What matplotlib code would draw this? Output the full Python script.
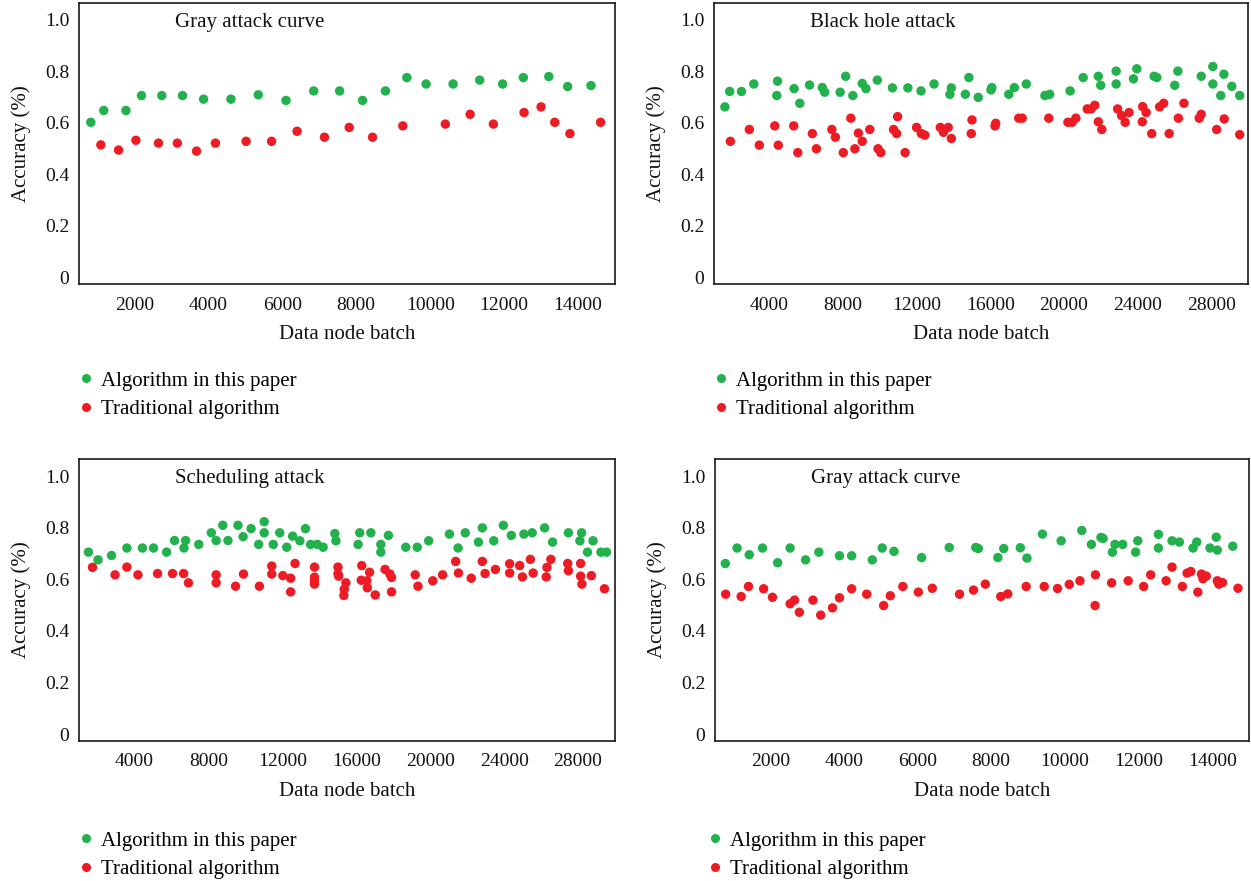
import matplotlib
matplotlib.use("Agg")
import matplotlib.pyplot as plt
from matplotlib.lines import Line2D

plt.rcParams['font.family'] = ['Liberation Serif', 'DejaVu Serif']

# ---------------- data ----------------
titles = ["Gray attack curve", "Black hole attack", "Scheduling attack", "Gray attack curve"]
series_labels = ["Algorithm in this paper", "Traditional algorithm"]
x_label = "Data node batch"
y_label = "Accuracy (%)"

# Panel 1 : Gray attack curve (top-left)
p1_green_x = [820, 1170, 1770, 2190, 2740, 3300, 3870, 4610, 5350, 6100, 6850, 7550,
              8170, 8790, 9370, 9890, 10620, 11340, 11960, 12520, 13210, 13720, 14350]
p1_green_y = [0.602, 0.648, 0.648, 0.706, 0.706, 0.706, 0.692, 0.692, 0.709, 0.687, 0.724, 0.724,
              0.687, 0.724, 0.776, 0.751, 0.751, 0.766, 0.751, 0.776, 0.780, 0.741, 0.745]
p1_red_x = [1090, 1570, 2040, 2650, 3160, 3680, 4190, 5020, 5710, 6400, 7140, 7810,
            8440, 9260, 10410, 11080, 11710, 12540, 13000, 13370, 13780, 14610]
p1_red_y = [0.514, 0.494, 0.532, 0.521, 0.521, 0.490, 0.521, 0.528, 0.528, 0.567, 0.544, 0.582,
            0.544, 0.588, 0.595, 0.633, 0.595, 0.640, 0.662, 0.602, 0.558, 0.602]

# Panel 2 : Black hole attack (top-right)
p2_green_x = [1590, 1850, 2490, 3160, 4450, 4410, 5350, 5660, 6190, 6880, 7010, 7850, 8150,
              8540, 9050, 9250, 9870, 10690, 11530, 12240, 12950, 13810, 13890, 14650, 14840,
              15350, 16040, 16090, 17010, 17310, 17960, 18970, 19230, 20340, 21050, 21870,
              22000, 22840, 22840, 23780, 23960, 24900, 25050, 26020, 26190, 27460, 28090,
              28090, 28520, 28690, 29120, 29550]
p2_green_y = [0.662, 0.722, 0.722, 0.751, 0.762, 0.706, 0.733, 0.676, 0.747, 0.737, 0.719, 0.719, 0.781,
              0.706, 0.753, 0.733, 0.766, 0.736, 0.736, 0.724, 0.751, 0.711, 0.736, 0.711, 0.776,
              0.699, 0.728, 0.737, 0.711, 0.737, 0.751, 0.706, 0.711, 0.724, 0.776, 0.781,
              0.746, 0.801, 0.751, 0.771, 0.810, 0.781, 0.776, 0.746, 0.801, 0.781, 0.751,
              0.819, 0.706, 0.789, 0.742, 0.706]
p2_red_x = [1890, 2920, 3460, 4300, 4490, 5330, 5550, 6340, 6560, 7400, 7590, 8020, 8430,
            8650, 8840, 9050, 9460, 9910, 10060, 10750, 10920, 10970, 11380, 12000, 12260,
            12450, 13290, 13460, 13720, 13890, 15010, 14970, 16260, 16300, 17550, 17740,
            19180, 20220, 20450, 20650, 21270, 21480, 21680, 21870, 22060, 22920, 23140,
            23330, 23540, 24280, 24470, 24260, 24770, 25200, 25420, 25720, 26220, 26520,
            27350, 27460, 28300, 28710, 29550]
p2_red_y = [0.528, 0.574, 0.513, 0.588, 0.513, 0.588, 0.484, 0.558, 0.499, 0.574, 0.544, 0.484, 0.618,
            0.499, 0.560, 0.528, 0.574, 0.499, 0.484, 0.574, 0.558, 0.624, 0.484, 0.582, 0.558,
            0.552, 0.582, 0.563, 0.582, 0.539, 0.611, 0.558, 0.588, 0.598, 0.618, 0.618,
            0.618, 0.602, 0.602, 0.618, 0.654, 0.654, 0.668, 0.604, 0.574, 0.654, 0.628,
            0.602, 0.640, 0.663, 0.640, 0.604, 0.558, 0.662, 0.676, 0.558, 0.618, 0.676,
            0.618, 0.633, 0.574, 0.615, 0.554]

# Panel 3 : Scheduling attack (bottom-left)
p3_green_x = [1510, 2030, 2760, 3590, 4430, 5030, 5740, 6170, 6680, 6770, 7480, 8160, 8420,
              8780, 9060, 9600, 9880, 10310, 10720, 11020, 11020, 11510, 11860, 12240, 12560,
              12950, 13250, 13530, 13890, 14210, 14840, 14900, 16100, 16190, 16790, 17330,
              17330, 17740, 18680, 19300, 19920, 21040, 21510, 21900, 22610, 22820, 23440,
              23960, 24390, 25070, 25520, 26190, 26620, 27480, 28100, 28190, 28510, 28810,
              29240, 29540]
p3_green_y = [0.705, 0.675, 0.692, 0.721, 0.721, 0.721, 0.705, 0.750, 0.721, 0.750, 0.735, 0.780, 0.750,
              0.809, 0.750, 0.809, 0.765, 0.796, 0.735, 0.823, 0.780, 0.735, 0.780, 0.724, 0.767,
              0.749, 0.796, 0.735, 0.735, 0.724, 0.777, 0.749, 0.735, 0.780, 0.780, 0.735,
              0.705, 0.770, 0.724, 0.724, 0.749, 0.775, 0.721, 0.780, 0.744, 0.799, 0.749,
              0.809, 0.770, 0.775, 0.780, 0.799, 0.744, 0.780, 0.749, 0.780, 0.705, 0.749,
              0.705, 0.705]
p3_red_x = [1730, 2950, 3590, 4190, 5250, 6060, 6660, 6920, 8420, 8420, 9470, 9900, 10760,
            11430, 11430, 12030, 12450, 12450, 12690, 13740, 13740, 13740, 13740, 15010, 15010,
            15050, 15440, 15350, 15330, 16300, 16270, 16570, 16720, 16600, 17030, 17560,
            17820, 17910, 17910, 19190, 19340, 20140, 20670, 21380, 21530, 22220, 22820,
            22970, 23530, 24300, 24300, 24840, 24990, 25420, 25570, 26280, 26320, 26530,
            27440, 27480, 28140, 28140, 28210, 28720, 29430]
p3_red_y = [0.646, 0.617, 0.647, 0.617, 0.622, 0.622, 0.622, 0.586, 0.617, 0.586, 0.573, 0.620, 0.573,
            0.651, 0.620, 0.614, 0.604, 0.551, 0.661, 0.647, 0.608, 0.594, 0.581, 0.647, 0.621,
            0.612, 0.586, 0.561, 0.537, 0.653, 0.596, 0.594, 0.627, 0.567, 0.539, 0.638,
            0.620, 0.607, 0.551, 0.617, 0.573, 0.594, 0.617, 0.669, 0.624, 0.604, 0.669,
            0.622, 0.638, 0.660, 0.624, 0.653, 0.609, 0.677, 0.624, 0.609, 0.646, 0.677,
            0.661, 0.633, 0.661, 0.612, 0.581, 0.614, 0.563]

# Panel 4 : Gray attack curve (bottom-right)
p4_green_x = [780, 1100, 1430, 1790, 2200, 2540, 2960, 3320, 3880, 4210, 4770, 5040, 5360,
              6110, 6860, 7580, 7650, 8180, 8340, 8790, 8970, 9390, 9900, 10460, 10720,
              10980, 11040, 11290, 11360, 11570, 11920, 11980, 12540, 12540, 12910, 13110,
              13480, 13580, 13940, 14110, 14140, 14560]
p4_green_y = [0.661, 0.721, 0.695, 0.721, 0.664, 0.721, 0.675, 0.705, 0.691, 0.691, 0.675, 0.721, 0.708,
              0.684, 0.723, 0.723, 0.719, 0.684, 0.719, 0.722, 0.682, 0.775, 0.749, 0.789, 0.735,
              0.762, 0.758, 0.705, 0.735, 0.735, 0.705, 0.749, 0.721, 0.774, 0.749, 0.744,
              0.721, 0.744, 0.721, 0.763, 0.713, 0.728]
p4_red_x = [790, 1210, 1410, 1820, 2060, 2540, 2660, 2790, 3160, 3370, 3690, 3880, 4210,
            4620, 5080, 5260, 5600, 6020, 6400, 7140, 7520, 7840, 8260, 8450, 8950, 9440,
            9800, 10120, 10410, 10820, 10830, 11270, 11720, 12140, 12330, 12750, 12910,
            13190, 13320, 13420, 13610, 13710, 13750, 13840, 14140, 14180, 14280, 14700]
p4_red_y = [0.542, 0.533, 0.572, 0.563, 0.530, 0.505, 0.519, 0.472, 0.519, 0.461, 0.489, 0.528, 0.563,
            0.542, 0.498, 0.536, 0.572, 0.550, 0.565, 0.542, 0.558, 0.581, 0.533, 0.543, 0.572, 0.572,
            0.564, 0.580, 0.594, 0.498, 0.617, 0.586, 0.594, 0.572, 0.617, 0.594, 0.647,
            0.572, 0.624, 0.630, 0.550, 0.620, 0.602, 0.612, 0.594, 0.581, 0.587, 0.565]

panels = [
    (p1_green_x, p1_green_y, p1_red_x, p1_red_y, (500, 15000), [2000, 4000, 6000, 8000, 10000, 12000, 14000]),
    (p2_green_x, p2_green_y, p2_red_x, p2_red_y, (1000, 30000), [4000, 8000, 12000, 16000, 20000, 24000, 28000]),
    (p3_green_x, p3_green_y, p3_red_x, p3_red_y, (1000, 30000), [4000, 8000, 12000, 16000, 20000, 24000, 28000]),
    (p4_green_x, p4_green_y, p4_red_x, p4_red_y, (500, 15000), [2000, 4000, 6000, 8000, 10000, 12000, 14000]),
]
y_ticks = [0, 0.2, 0.4, 0.6, 0.8, 1.0]
y_ticklabels = ["0", "0.2", "0.4", "0.6", "0.8", "1.0"]

GREEN = "#22b14c"
RED = "#ed1c24"

W, H = 1251, 881
fig = plt.figure(figsize=(W / 100, H / 100), dpi=100)

# axes boxes in pixels: (left, right, top, bottom)
boxes = [(79, 615, 3, 284), (714, 1248, 3, 284), (79, 615, 459, 741), (715, 1249, 459, 741)]
legend_pos = [(76, 395), (711, 395), (76, 855), (705, 855)]

for i, (box, pdata) in enumerate(zip(boxes, panels)):
    l, r, t, b = box
    ax = fig.add_axes([l / W, 1 - b / H, (r - l) / W, (b - t) / H])
    gx, gy, rx, ry, xlim, xt = pdata
    ax.scatter(gx, gy, s=46, color=GREEN, edgecolors='none', zorder=3)
    ax.scatter(rx, ry, s=46, color=RED, edgecolors='none', zorder=3)
    ax.set_xlim(*xlim)
    ax.set_ylim(-0.027, 1.066)
    ax.set_xticks(xt)
    ax.set_xticklabels([str(v) for v in xt])
    ax.set_yticks(y_ticks)
    ax.set_yticklabels(y_ticklabels)
    ax.tick_params(axis='both', length=0, labelsize=14, colors='#111111')
    ax.tick_params(axis='x', pad=9)
    ax.tick_params(axis='y', pad=7)
    for sp in ax.spines.values():
        sp.set_linewidth(1.2)
        sp.set_color('#1a1a1a')
    ax.set_xlabel(x_label, fontsize=15, labelpad=8, color='#111111')
    ax.set_ylabel(y_label, fontsize=15, labelpad=10, color='#111111')
    ax.text(0.18, 0.93, titles[i], transform=ax.transAxes, fontsize=15,
            ha='left', va='center', color='#111111')

    handles = [Line2D([], [], marker='o', linestyle='none', markersize=6.5,
                      markerfacecolor=GREEN, markeredgecolor='none'),
               Line2D([], [], marker='o', linestyle='none', markersize=6.5,
                      markerfacecolor=RED, markeredgecolor='none')]
    lx, ly = legend_pos[i]
    fig.legend(handles, series_labels, loc='center left',
               bbox_to_anchor=(lx / W, 1 - ly / H), bbox_transform=fig.transFigure,
               frameon=False, fontsize=15, handletextpad=0.2, labelspacing=0.42,
               handlelength=1.0, borderpad=0, borderaxespad=0)

fig.savefig("out.png", dpi=100)
